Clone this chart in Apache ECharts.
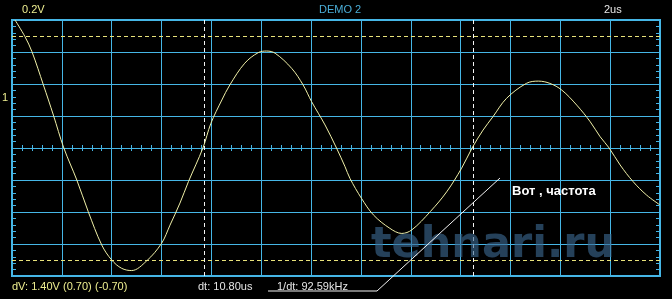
<!DOCTYPE html>
<html>
<head>
<meta charset="utf-8">
<script src="https://cdn.jsdelivr.net/npm/echarts@6/dist/echarts.min.js"></script>
<style>
html,body{margin:0;padding:0;background:#000;}
#c{width:672px;height:299px;}
</style>
</head>
<body>
<div id="c"></div>
<script>
// time in microseconds (2 us / div), voltage in volts (0.2 V / div)
var timeUs = [0.12, 0.52, 0.80, 1.26, 1.66, 2.08, 2.60, 3.06, 3.60, 4.00, 4.40, 4.80, 5.40, 6.00, 6.34, 6.74, 7.08, 7.66, 7.98, 8.42, 8.74, 9.34, 9.88, 10.22, 10.56, 11.22, 11.68, 12.02, 12.56, 13.02, 13.36, 13.56, 14.02, 14.50, 15.16, 15.64, 16.04, 16.78, 17.44, 18.04, 18.46, 18.90, 19.30, 19.84, 20.64, 21.12, 21.58, 22.06, 22.66, 23.20, 23.60, 23.96, 24.40, 24.92, 25.46, 26.00];
var volts = [0.80, 0.696, 0.602, 0.394, 0.206, 0, -0.20, -0.398, -0.606, -0.70, -0.752, -0.766, -0.706, -0.596, -0.482, -0.344, -0.21, 0, 0.154, 0.30, 0.394, 0.53, 0.596, 0.606, 0.592, 0.498, 0.394, 0.29, 0.144, 0, -0.116, -0.19, -0.314, -0.418, -0.502, -0.534, -0.512, -0.398, -0.274, -0.126, 0, 0.112, 0.196, 0.31, 0.404, 0.418, 0.404, 0.362, 0.268, 0.164, 0.07, 0, -0.106, -0.21, -0.294, -0.356];
var voltCursors = [0.70, -0.70];
var timeCursors = [7.7, 18.5];
var xRange = [0, 26], xStep = 2;
var yRange = [-0.8, 0.8], yStep = 0.2;

var gridColor = '#46b6e6';
var traceColor = '#f0f0a8';
var chart = echarts.init(document.getElementById('c'), null, {renderer: 'canvas'});

var pts = timeUs.map(function (t, i) { return [t, volts[i]]; });

function xAx(pos) {
  return {
    type: 'value', min: xRange[0], max: xRange[1], interval: xStep, position: pos,
    axisLine: {show: true, onZero: true, onZeroAxisIndex: 0, lineStyle: {color: gridColor, width: 1}},
    axisTick: {show: true, length: 3, lineStyle: {color: gridColor, width: 1}},
    minorTick: {show: true, splitNumber: 5, length: 3, lineStyle: {color: gridColor, width: 1}},
    axisLabel: {show: false},
    splitLine: {show: pos === 'bottom', lineStyle: {color: gridColor, width: 1}},
    minorSplitLine: {show: false}
  };
}
function yAx(pos) {
  return {
    type: 'value', min: yRange[0], max: yRange[1], interval: yStep, position: pos,
    axisLine: {show: true, onZero: false, lineStyle: {color: gridColor, width: 2}},
    axisTick: {show: true, inside: true, length: 4, lineStyle: {color: gridColor, width: 1}},
    minorTick: {show: true, splitNumber: 5, length: 4, lineStyle: {color: gridColor, width: 1}},
    axisLabel: {show: false},
    splitLine: {show: pos === 'left', lineStyle: {color: gridColor, width: 1}}
  };
}

var markData = voltCursors.map(function (v) {
  return {yAxis: v, lineStyle: {color: '#e8e27a', type: [4, 3], width: 1}};
}).concat(timeCursors.map(function (t) {
  return {xAxis: t, lineStyle: {color: '#f4f4f4', type: [4, 3], width: 1}};
}));

var font = '11px "Liberation Sans", Arial, sans-serif';
function txt(s, x, y, color, f) {
  return {type: 'text', x: x, y: y, z: 100,
    style: {text: s, fill: color, font: f || font, verticalAlign: 'middle', align: 'left'}};
}

chart.setOption({
  animation: false,
  backgroundColor: '#000',
  grid: {left: 12, top: 20, width: 648, height: 256, show: true, borderColor: gridColor, borderWidth: 2, backgroundColor: 'transparent'},
  xAxis: [xAx('bottom'), xAx('top')],
  yAxis: [yAx('left'), yAx('right')],
  series: [{
    type: 'line', data: pts, showSymbol: false, smooth: 0.35, clip: true,
    lineStyle: {color: traceColor, width: 1}, z: 5,
    markLine: {silent: true, symbol: 'none', label: {show: false}, data: markData, animation: false}
  }],
  graphic: [
    {type: 'text', x: 371, y: 246, z: 50,
      style: {text: 'tehnari.ru', font: 'bold 43px "DejaVu Sans", sans-serif', verticalAlign: 'middle',
        align: 'left', fill: 'rgba(60,105,145,0.62)'}},
    txt('0.2V', 22, 10, '#eeee90'),
    txt('DEMO 2', 319, 10, '#4aaed8'),
    txt('2us', 604, 10, '#e6e6e6'),
    txt('1', 2, 98, '#eeee90'),
    txt('dV: 1.40V', 12, 287, '#eeee90'),
    txt('(0.70)', 63, 287, '#eeee90'),
    txt('(-0.70)', 95, 287, '#eeee90'),
    txt('dt: 10.80us', 198, 287, '#e6e6e6'),
    txt('1/dt: 92.59kHz', 277, 287, '#e6e6e6'),
    {type: 'polyline', z: 60, shape: {points: [[268, 291], [377, 291], [500, 178]]},
      style: {stroke: '#f2f2f2', lineWidth: 1, fill: null}},
    txt('Вот , частота', 512, 191, '#ffffff', 'bold 13px "Liberation Sans", Arial, sans-serif')
  ]
});
</script>
</body>
</html>
